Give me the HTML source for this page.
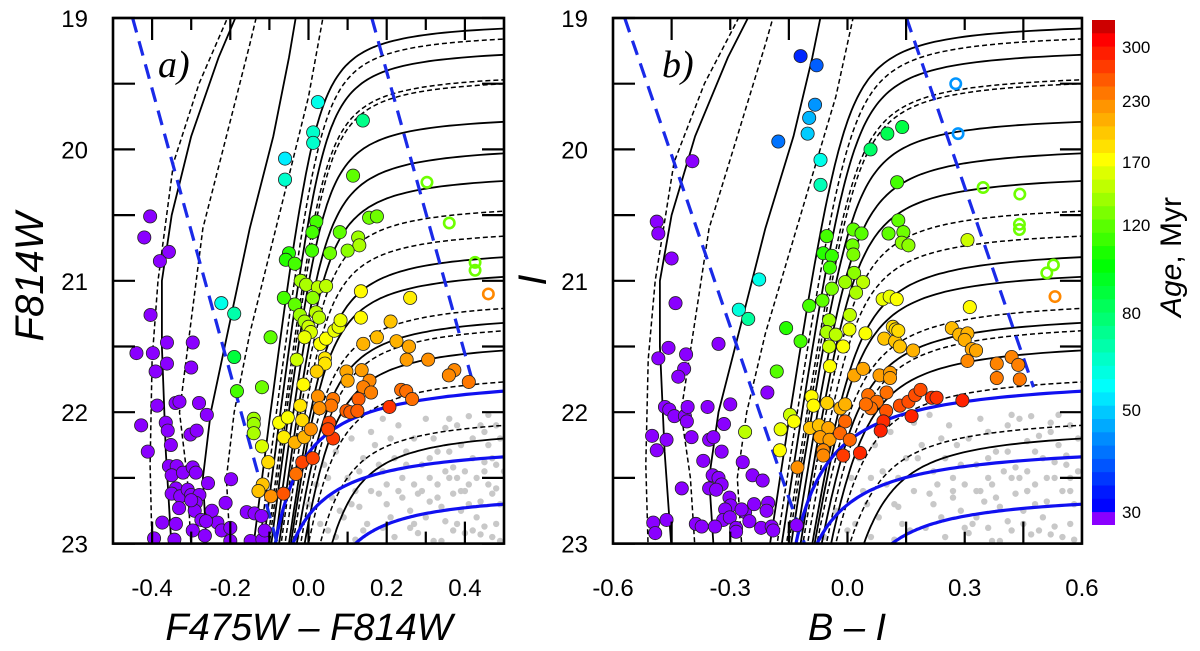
<!DOCTYPE html>
<html><head><meta charset="utf-8">
<style>
html,body{margin:0;padding:0;background:#fff;}
svg{display:block;font-family:"Liberation Sans",sans-serif;}
</style></head>
<body>
<svg id="chart" width="1200" height="651" viewBox="0 0 1200 651" xmlns="http://www.w3.org/2000/svg">
<defs>
<clipPath id="clipA"><rect x="113" y="18" width="391" height="525.6"/></clipPath>
<clipPath id="clipB"><rect x="613" y="18" width="468" height="525.6"/></clipPath>
</defs>
<g id="panelA"></g>
<g id="panelB"></g>
<g id="cbar"></g>
<text transform="translate(43,277) rotate(-90)" text-anchor="middle" font-size="40" font-style="italic">F814W</text>
<text transform="translate(546,280) rotate(-90)" text-anchor="middle" font-size="40" font-style="italic">I</text>
<text x="309" y="640" text-anchor="middle" font-size="38" font-style="italic">F475W – F814W</text>
<text x="847" y="640" text-anchor="middle" font-size="38" font-style="italic">B – I</text>
<text transform="translate(1181,257) rotate(-90)" text-anchor="middle" font-size="30"><tspan font-style="italic">Age</tspan>, Myr</text>
<text x="158" y="77" font-size="38" font-style="italic" font-family="Liberation Serif,serif">a)</text>
<text x="662" y="77" font-size="38" font-style="italic" font-family="Liberation Serif,serif">b)</text>
</svg>
<script>
// ---------- data ----------
const yTicks = [19,20,21,22,23];
const xTicksA = [-0.4,-0.2,0.0,0.2,0.4];
const xTickLabelsA = ["-0.4","-0.2","0.0","0.2","0.4"];
const xTicksB = [-0.6,-0.3,0.0,0.3,0.6];
const xTickLabelsB = ["-0.6","-0.3","0.0","0.3","0.6"];
const cbarAges = [30,50,80,120,170,230,300];
const cbarPos = [512,410,313,225,162,101,47];

// [color, mag, age]
const starsA = [
[0.024,19.64,60],[0.139,19.78,75],[0.012,19.87,65],[0.012,19.95,65],[-0.06,20.07,55],[-0.06,20.23,65],
[0.114,20.2,120],[0.155,20.52,125],[0.175,20.51,125],[0.02,20.55,115],[0.01,20.63,115],[0.08,20.63,120],
[0.127,20.67,140],[0.13,20.73,145],[0.009,20.77,115],[0.055,20.79,125],[0.1,20.77,135],[-0.05,20.79,110],
[-0.058,20.84,110],[-0.035,20.87,115],[-0.02,21.0,140],[-0.006,21.03,145],[0.024,21.05,150],[0.045,21.04,150],
[-0.405,20.51,20],[-0.42,20.67,20],[-0.38,20.85,20],[-0.357,20.78,20],
[-0.223,21.17,60],[-0.19,21.25,70],[-0.063,21.13,115],[-0.035,21.18,120],[0.011,21.13,135],[-0.022,21.26,140],
[-0.01,21.31,145],[0.019,21.24,150],[0.027,21.28,150],[0.0,21.35,155],[0.006,21.39,160],[-0.01,21.43,165],
[0.03,21.48,170],[0.045,21.44,170],[0.066,21.38,165],[0.077,21.35,165],[0.082,21.3,165],[0.134,21.08,175],
[0.134,21.28,175],[0.26,21.13,180],[0.21,21.31,200],[0.175,21.43,205],[0.14,21.48,210],[0.225,21.46,210],
[0.257,21.5,215],[0.251,21.6,220],[0.306,21.6,225],[0.373,21.68,230],[0.359,21.72,230],[0.41,21.77,240],
[0.042,21.59,185],[0.042,21.63,185],[0.021,21.69,195],[0.097,21.69,215],[0.1,21.76,215],[0.136,21.68,220],
[0.156,21.76,230],[0.14,21.81,235],[0.16,21.85,235],[0.237,21.83,245],[0.25,21.84,245],[0.265,21.9,245],
[0.207,21.96,280],[0.128,21.9,255],[0.097,21.99,255],[0.107,22.0,255],[0.125,21.99,255],[0.063,21.9,240],
[0.058,21.95,240],[0.024,21.88,225],[0.028,21.97,225],[-0.021,21.95,185],[-0.013,21.79,175],[-0.03,21.6,155],
[-0.097,21.43,120],[-0.119,21.81,125],[-0.19,21.58,90],[-0.183,21.84,115],[-0.14,22.05,140],[-0.14,22.09,140],
[-0.14,22.16,145],[-0.119,22.26,160],[-0.075,22.08,170],[-0.053,22.04,170],[-0.016,22.06,190],[-0.063,22.19,180],
[-0.035,22.23,210],[-0.011,22.19,210],[0.006,22.13,225],[0.053,22.08,270],[0.063,22.2,275],[0.05,22.13,270],
[-0.103,22.38,190],[-0.117,22.55,200],[-0.128,22.6,200],[-0.096,22.64,225],[-0.064,22.62,260],[-0.016,22.38,270],
[0.011,22.35,270],[-0.032,22.47,245],
[-0.404,21.26,20],[-0.44,21.55,20],[-0.398,21.55,20],[-0.362,21.47,20],[-0.296,21.47,20],[-0.362,21.63,20],
[-0.391,21.69,20],[-0.3,21.66,20],[-0.387,21.95,20],[-0.428,22.1,20],[-0.411,22.3,20],[-0.365,22.08,20],
[-0.36,22.14,20],[-0.34,21.93,20],[-0.33,21.92,20],[-0.28,21.93,20],[-0.26,22.02,20],[-0.302,22.17,20],
[-0.286,22.14,20],[-0.352,22.25,20],[-0.357,22.41,20],[-0.337,22.41,20],[-0.35,22.48,20],[-0.321,22.46,20],
[-0.296,22.42,20],[-0.288,22.46,20],[-0.257,22.54,20],[-0.198,22.51,20],[-0.339,22.58,20],[-0.35,22.62,20],
[-0.328,22.64,20],[-0.309,22.59,20],[-0.3,22.63,20],[-0.279,22.63,20],[-0.288,22.69,20],[-0.291,22.75,20],
[-0.331,22.73,20],[-0.3,22.67,20],[-0.247,22.75,20],[-0.212,22.69,20],[-0.158,22.76,20],[-0.138,22.77,20],
[-0.12,22.79,20],[-0.374,22.84,20],[-0.339,22.85,20],[-0.274,22.82,20],[-0.233,22.84,20],[-0.222,22.9,20],
[-0.2,22.88,20],[-0.262,22.83,20],[-0.395,22.96,20],[-0.343,22.97,20],[-0.296,22.9,20],[-0.265,22.94,20],
[-0.2,22.98,20],[-0.148,22.98,20],[-0.118,22.97,20],[-0.112,22.9,20]
];
const openA = [[0.303,20.25,125],[0.36,20.56,125],[0.426,20.86,125],[0.426,20.92,125],[0.46,21.1,230]];

const starsB = [
[-0.12,19.29,35],[-0.079,19.36,40],[-0.083,19.66,45],[-0.098,19.76,48],[-0.102,19.88,50],[-0.177,19.94,42],
[-0.069,20.08,60],[-0.069,20.27,68],[-0.226,20.99,60],[0.059,20.0,80],[0.102,19.88,85],[0.14,19.83,88],
[0.127,20.25,115],[-0.397,20.09,20],[-0.488,20.55,20],[-0.484,20.64,20],[-0.45,20.83,20],
[-0.053,20.66,115],[0.015,20.61,120],[0.036,20.64,118],[0.013,20.73,125],[0.015,20.8,130],[-0.062,20.79,110],
[-0.04,20.81,112],[-0.045,20.9,115],[0.017,20.94,135],[-0.006,21.01,140],[0.04,21.01,150],[0.13,20.54,120],
[0.143,20.63,125],[0.105,20.64,120],[0.139,20.71,135],[0.156,20.73,135],[0.307,20.69,155],
[-0.44,21.17,20],[-0.278,21.22,62],[-0.254,21.29,72],[-0.04,21.06,130],[0.022,21.09,145],[-0.064,21.15,120],
[-0.098,21.19,115],[-0.157,21.36,110],[-0.12,21.46,115],[-0.181,21.69,118],[0.006,21.26,150],[-0.047,21.3,140],
[-0.053,21.39,145],[-0.03,21.41,150],[0.005,21.37,165],[-0.047,21.5,155],[-0.011,21.5,170],[0.046,21.4,170],
[-0.045,21.65,170],[-0.262,22.15,150],[-0.147,22.02,155],[-0.171,22.13,165],[-0.137,22.07,170],[-0.173,22.29,172],
[0.09,21.14,165],[0.108,21.12,165],[0.126,21.14,170],[0.313,21.2,175],
[-0.092,21.88,175],[-0.087,21.95,175],[-0.052,21.93,195],[-0.096,22.12,200],[-0.073,22.1,200],[-0.049,22.12,215],
[-0.07,22.19,220],[-0.046,22.21,220],[-0.062,22.29,230],[-0.062,22.33,230],[-0.128,22.42,225],[-0.011,22.33,275],
[0.032,22.31,285],[0.017,21.72,215],[0.04,21.67,215],[0.082,21.72,220],[0.109,21.7,220],[0.109,21.74,220],
[-0.018,21.97,210],[-0.006,21.94,210],[0.094,21.44,200],[0.122,21.46,200],[0.134,21.5,200],[0.116,21.35,190],
[0.123,21.37,190],[0.13,21.38,190],[0.168,21.53,210],[0.267,21.36,205],[0.286,21.41,208],[0.307,21.4,210],
[0.3,21.45,212],[0.318,21.52,215],[0.329,21.53,215],[0.307,21.61,230],[0.382,21.63,232],[0.42,21.58,232],
[0.437,21.64,235],[0.382,21.74,238],[0.441,21.75,240],[0.053,21.87,245],[0.075,21.92,245],[0.06,21.97,245],
[0.047,21.94,245],[0.1,21.85,245],[-0.006,22.07,250],[-0.019,22.16,250],[0.006,22.21,250],[0.099,21.99,260],
[0.134,21.95,265],[0.156,21.92,265],[0.173,21.87,265],[0.187,21.83,265],[0.092,22.07,285],[0.085,22.14,290],
[0.164,22.03,290],[0.216,21.89,280],[0.228,21.89,280],[0.294,21.91,290],
[-0.458,21.51,20],[-0.484,21.59,20],[-0.413,21.56,20],[-0.418,21.67,20],[-0.433,21.73,20],[-0.33,21.48,20],
[-0.467,21.96,20],[-0.456,21.98,20],[-0.443,22.03,20],[-0.416,22.03,20],[-0.411,22.07,20],[-0.409,21.96,20],
[-0.358,21.96,20],[-0.3,21.94,20],[-0.316,22.09,20],[-0.205,21.85,20],[-0.5,22.18,20],[-0.463,22.21,20],
[-0.488,22.29,20],[-0.399,22.19,20],[-0.354,22.21,20],[-0.343,22.19,20],[-0.322,22.3,20],[-0.369,22.37,20],
[-0.268,22.38,20],[-0.243,22.48,20],[-0.217,22.52,20],[-0.345,22.48,20],[-0.33,22.5,20],[-0.322,22.55,20],
[-0.354,22.58,20],[-0.336,22.59,20],[-0.424,22.58,20],[-0.302,22.65,20],[-0.299,22.71,20],[-0.313,22.74,20],
[-0.318,22.82,20],[-0.301,22.8,20],[-0.262,22.76,20],[-0.271,22.74,20],[-0.239,22.7,20],[-0.203,22.69,20],
[-0.207,22.75,20],[-0.251,22.83,20],[-0.497,22.84,20],[-0.463,22.82,20],[-0.492,22.92,20],[-0.388,22.85,20],
[-0.373,22.87,20],[-0.339,22.87,20],[-0.285,22.88,20],[-0.285,22.91,20],[-0.221,22.88,20],[-0.194,22.87,20],
[-0.19,22.9,20],[-0.13,22.86,20]
];
const openB = [[0.277,19.5,45],[0.283,19.88,45],[0.347,20.29,125],[0.441,20.34,125],[0.44,20.57,125],[0.44,20.61,125],
[0.527,20.88,125],[0.51,20.94,125],[0.531,21.12,230]];

const grayA = [[0.05,22.9],[0.08,22.75],[0.12,22.6],[0.15,22.85],[0.18,22.4],[0.2,22.7],[0.22,22.95],[0.25,22.3],
[0.27,22.55],[0.3,22.8],[0.32,22.2],[0.33,22.65],[0.35,22.45],[0.37,22.9],[0.38,22.1],[0.4,22.6],[0.42,22.35],
[0.43,22.8],[0.45,22.15],[0.46,22.55],[0.47,22.95],[0.48,22.4],[0.49,22.7],[0.3,22.05],[0.21,22.2],[0.14,22.35],
[0.1,22.5],[0.06,22.65],[0.03,22.85],[0.28,22.92],[0.16,22.6],[0.24,22.5],[0.34,22.98],[0.41,22.03],[0.44,22.68],
[0.36,22.3],[0.26,22.75],[0.19,22.88],[0.39,22.75],[0.46,22.25],[0.12,22.97],[0.29,22.4],[0.23,22.1],[0.48,22.85],
[0.33,22.55],[0.4,22.45],[0.17,22.25],[0.09,22.8],[0.44,22.93],[0.37,22.62],[0.31,22.68],[0.45,22.45],[0.42,22.9],
[0.35,22.83],[0.47,22.62],[0.27,22.2],[0.2,22.55],[0.38,22.5],[0.49,22.2],[0.13,22.72],
[-0.03,22.95],[0.0,22.7],[0.02,22.55],[0.04,22.4],[0.07,22.3],[0.11,22.2],[0.13,22.45],[0.16,22.15],[0.19,22.05],
[0.22,22.35],[0.24,22.65],[0.26,22.88],[0.28,22.62],[0.31,22.35],[0.32,22.98],[0.34,22.72],[0.35,22.12],[0.36,22.5],
[0.38,22.85],[0.39,22.25],[0.41,22.7],[0.42,22.2],[0.43,22.5],[0.45,22.87],[0.46,22.02],[0.47,22.35],[0.48,22.58],
[0.49,22.98],[0.5,22.45],[0.44,22.1],[0.4,22.92],[0.36,22.05],[0.29,22.6],[0.25,22.4],[0.21,22.8],[0.18,22.62],
[0.14,22.9],[0.11,22.7],[0.07,22.95],[0.05,22.5],[0.33,22.3],[0.37,22.42],[0.45,22.38],[0.48,22.1],[0.41,22.55],
[0.27,22.85],[0.23,22.6],[0.19,22.45],[0.31,22.5],[0.39,22.6]];
const grayB = [[0.0,22.9],[0.05,22.7],[0.1,22.55],[0.14,22.85],[0.18,22.35],[0.22,22.7],[0.25,22.95],[0.28,22.25],
[0.3,22.55],[0.33,22.8],[0.36,22.15],[0.38,22.65],[0.4,22.45],[0.42,22.9],[0.44,22.05],[0.46,22.6],[0.48,22.3],
[0.5,22.8],[0.52,22.15],[0.53,22.5],[0.55,22.95],[0.56,22.4],[0.58,22.7],[0.34,22.05],[0.24,22.2],[0.15,22.35],
[0.09,22.45],[0.04,22.6],[0.02,22.85],[0.31,22.92],[0.17,22.6],[0.27,22.5],[0.39,22.98],[0.47,22.03],[0.51,22.68],
[0.41,22.3],[0.29,22.75],[0.2,22.88],[0.45,22.75],[0.54,22.25],[0.12,22.97],[0.33,22.4],[0.26,22.1],[0.57,22.85],
[0.37,22.55],[0.46,22.45],[0.19,22.25],[0.08,22.8],[0.52,22.93],[0.43,22.62],[0.35,22.68],[0.55,22.6],[0.49,22.9],
[0.41,22.83],[0.57,22.5],[0.31,22.2],[0.23,22.55],[0.44,22.5],[0.59,22.2],[0.13,22.72],[0.5,22.35],[0.36,22.88],
[-0.06,22.95],[-0.03,22.75],[0.01,22.5],[0.03,22.35],[0.07,22.25],[0.11,22.15],[0.13,22.5],[0.17,22.08],[0.21,22.02],
[0.25,22.35],[0.27,22.65],[0.3,22.88],[0.33,22.6],[0.36,22.35],[0.37,22.98],[0.39,22.72],[0.41,22.1],[0.42,22.5],
[0.45,22.85],[0.46,22.22],[0.48,22.7],[0.49,22.18],[0.51,22.5],[0.53,22.87],[0.54,22.02],[0.56,22.33],[0.57,22.6],
[0.58,22.97],[0.59,22.45],[0.52,22.08],[0.47,22.93],[0.42,22.02],[0.34,22.6],[0.29,22.4],[0.24,22.8],[0.21,22.62],
[0.16,22.9],[0.12,22.7],[0.06,22.95],[0.06,22.5],[0.38,22.3],[0.43,22.42],[0.53,22.38],[0.57,22.1],[0.48,22.55],
[0.32,22.85],[0.27,22.6],[0.22,22.45],[0.36,22.5],[0.46,22.6]];

// isochrone model params: [mag at right edge, colour at m=23, corner sharpness k, dashed]
const isoParams = [
[19.08,-0.14,0.035,0],[19.16,-0.125,0.035,1],[19.28,-0.115,0.035,0],[19.47,-0.105,0.035,1],[19.5,-0.1,0.035,1],
[19.79,-0.095,0.035,0],[20.03,-0.085,0.04,0],[20.24,-0.075,0.04,0],[20.47,-0.07,0.04,1],[20.66,-0.06,0.04,1],
[20.82,-0.05,0.045,0],[20.97,-0.045,0.045,0],[21.21,-0.04,0.05,1],[21.32,-0.03,0.05,0],[21.38,-0.02,0.05,1],
[21.53,-0.01,0.05,0],[21.77,0.0,0.05,1],[22.1,0.03,0.05,1],[22.2,0.06,0.05,0]];
const blueIsoParams = [[21.84,-0.085,0.09],[22.34,-0.04,0.08],[22.7,0.12,0.06]];
const leftTracks = [
{d:1,p:[[-0.40,23.05],[-0.405,22.4],[-0.40,21.6],[-0.385,21.0],[-0.345,20.1],[-0.28,19.5],[-0.2,18.95]]},
{d:0,p:[[-0.35,23.05],[-0.365,22.3],[-0.375,21.5],[-0.375,21.0],[-0.35,20.5],[-0.3,19.9],[-0.23,19.3],[-0.18,18.95]]},
{d:1,p:[[-0.3,23.05],[-0.31,22.5],[-0.33,22.0],[-0.3,21.3],[-0.27,20.6],[-0.21,19.9],[-0.15,19.2],[-0.13,18.95]]},
{d:0,p:[[-0.26,23.05],[-0.27,22.5],[-0.25,22.0],[-0.2,21.3],[-0.15,20.6],[-0.09,19.9],[-0.05,19.3],[-0.03,18.95]]},
{d:1,p:[[-0.2,23.05],[-0.21,22.5],[-0.19,22.0],[-0.15,21.4],[-0.1,20.8],[-0.05,20.2],[0.0,19.6],[0.04,18.95]]}];
const blueDashA = [[[-0.45,19],[-0.08,23]],[[0.162,19.0],[0.42,21.77]]];
const blueDashB = [[[-0.57,19],[-0.11,23]],[[0.151,19.0],[0.476,21.81]]];

// ---------- helpers ----------
const NS="http://www.w3.org/2000/svg";
function mk(tag, attrs, parent){const e=document.createElementNS(NS,tag);for(const k in attrs)e.setAttribute(k,attrs[k]);parent.appendChild(e);return e;}
const yS = m => 18 + (m-19)*131.4;
const hueY = [512,500,387,263,160,101,40,15];
const hueV = [240,238,180,120,60,32,0,0];
function ageToY(a){
  for(let i=1;i<cbarAges.length;i++){ if(a<=cbarAges[i]){const f=(a-cbarAges[i-1])/(cbarAges[i]-cbarAges[i-1]);return cbarPos[i-1]+f*(cbarPos[i]-cbarPos[i-1]);} }
  return 47-(a-300)*0.8;
}
function hueAtY(y){
  if(y>=hueY[0]) return 240;
  for(let i=1;i<hueY.length;i++){ if(y>=hueY[i]){const f=(hueY[i-1]-y)/(hueY[i-1]-hueY[i]);return hueV[i-1]+f*(hueV[i]-hueV[i-1]);} }
  return 0;
}
function ageColor(a){
  if(a<=30) return "rgb(138,0,255)";
  return "hsl("+hueAtY(ageToY(a)).toFixed(0)+",100%,50%)";
}
function pathD(pts,xS){return pts.map((p,i)=>(i?"L":"M")+xS(p[0]).toFixed(1)+","+yS(p[1]).toFixed(1)).join("");}
function isoPts(mR, cb, k, s, cR){
  const cr = cR - s*(23-mR);
  const drop = 23-mR;
  let lo = cb-5, hi = cb-1e-7;
  const f = c0 => k*(1/(cb-c0) - 1/(cr-c0)) - drop;
  for(let i=0;i<80;i++){const mid=(lo+hi)/2; if(f(mid)>0) hi=mid; else lo=mid;}
  const c0=(lo+hi)/2, mA = mR - k/(cr-c0);
  const cs = c0 + k/(23.1-mA), ce = cr+0.05;
  const out=[];
  const ratio = Math.log((ce-c0)/(cs-c0));
  for(let i=0;i<=80;i++){const cp = c0 + (cs-c0)*Math.exp(ratio*i/80); const m = mA + k/(cp-c0); out.push([cp + s*(23-m), m]);}
  return out;
}

function drawPanel(g, id, xS, xmin, xmax, T, stars, opens, grays, bdash, xt, xtl, xminor, tickLabelX, clipId){
  const L=xS(xmin), R=xS(xmax), Tp=18, B=543.6;
  const c = mk("g",{"clip-path":"url(#"+clipId+")"},g);
  
  
  grays.forEach(p=>{const e=mk("circle",{cx:xS(p[0]),cy:yS(p[1]),r:3.2,fill:"#c8c8c8"},c);
    
    });
  isoParams.forEach(p=>{
    const s = 0.04*T.sc;
    const e=mk("path",{d:pathD(isoPts(p[0],T(p[1]),p[2]*T.sc,s,xmax),xS),fill:"none",stroke:"#000","stroke-width":p[3]?1.5:1.8,"stroke-dasharray":p[3]?"5,3":"none"},c);
    
    });
  leftTracks.forEach(t=>{const e=mk("path",{d:pathD(t.p.map(q=>[T(q[0]),q[1]]),xS),fill:"none",stroke:"#000","stroke-width":t.d?1.5:1.8,"stroke-dasharray":t.d?"5,3":"none"},c);
    
    });
  blueIsoParams.forEach(p=>{const e=mk("path",{d:pathD(isoPts(p[0],T(p[1]),p[2]*T.sc,0.01,xmax),xS),fill:"none",stroke:"#1010f0","stroke-width":3.2},c);
    
    });
  bdash.forEach(l=>{const e=mk("path",{d:pathD(l,xS),fill:"none",stroke:"#1a2ae8","stroke-width":3.2,"stroke-dasharray":"15,9"},c);
    
    });
  stars.forEach(s=>{const e=mk("circle",{cx:xS(s[0]),cy:yS(s[1]),r:6.6,fill:ageColor(s[2]),stroke:"#222","stroke-width":0.8},c);
    
    });
  opens.forEach(s=>{const e=mk("circle",{cx:xS(s[0]),cy:yS(s[1]),r:5.2,fill:"none",stroke:ageColor(s[2]),"stroke-width":2.6},c);
    
    });
  for(let m=19;m<=23.001;m+=0.5){
    mk("line",{x1:L,x2:L+22,y1:yS(m),y2:yS(m),stroke:"#000","stroke-width":2.2},g);
    mk("line",{x1:R,x2:R-22,y1:yS(m),y2:yS(m),stroke:"#000","stroke-width":2.2},g);
  }
  xminor.forEach((v,i)=>{const len = i%2===0?22:12;
    mk("line",{x1:xS(v),x2:xS(v),y1:B,y2:B-len,stroke:"#000","stroke-width":2.2},g);
    mk("line",{x1:xS(v),x2:xS(v),y1:Tp,y2:Tp+len,stroke:"#000","stroke-width":2.2},g);});
  const fr = mk("rect",{x:L,y:Tp,width:R-L,height:B-Tp,fill:"none",stroke:"#000","stroke-width":2.6},g);
  
  
  xt.forEach((v,i)=>{const t=mk("text",{x:xS(v),y:596,"text-anchor":"middle","font-size":24},g);t.textContent=xtl[i];
    
    });
  yTicks.forEach(v=>{const t=mk("text",{x:tickLabelX,y:yS(v)+9,"text-anchor":"end","font-size":24},g);t.textContent=String(v);
    
    });
}

const xA = c => 113 + (c+0.5)*391;
const xB = c => 613 + (c+0.6)*390.8;
const minorA=[], minorB=[];
for(let v=-0.4;v<=0.41;v+=0.1) minorA.push(+v.toFixed(2));
for(let v=-0.45;v<=0.46;v+=0.15) minorB.push(+v.toFixed(2));
const TA = c=>c; TA.sc=1;
const TB = c=>1.2*c-0.03; TB.sc=1.2;
drawPanel(document.getElementById("panelA"),"panel-a",xA,-0.5,0.5,TA,starsA,openA,grayA,blueDashA,xTicksA,xTickLabelsA,minorA,88,"clipA");
drawPanel(document.getElementById("panelB"),"panel-b",xB,-0.6,0.6,TB,starsB,openB,grayB,blueDashB,xTicksB,xTickLabelsB,minorB,588,"clipB");

// colorbar
const cb=document.getElementById("cbar");
for(let y=20;y<525;y+=13.3){
  const yc=y+6.6;
  const fill = yc>=512 ? "rgb(138,0,255)" : (yc<33 ? "rgb(205,0,0)" : "hsl("+hueAtY(yc).toFixed(0)+",100%,50%)");
  const r=mk("rect",{x:1092,y:y.toFixed(1),width:23,height:Math.min(13.8,525-y).toFixed(1),fill:fill},cb);
  
  
}
cbarAges.forEach((a,i)=>{const t=mk("text",{x:1122,y:cbarPos[i]+6,"font-size":17},cb);t.textContent=String(a);
  
  });
</script>
</body></html>
